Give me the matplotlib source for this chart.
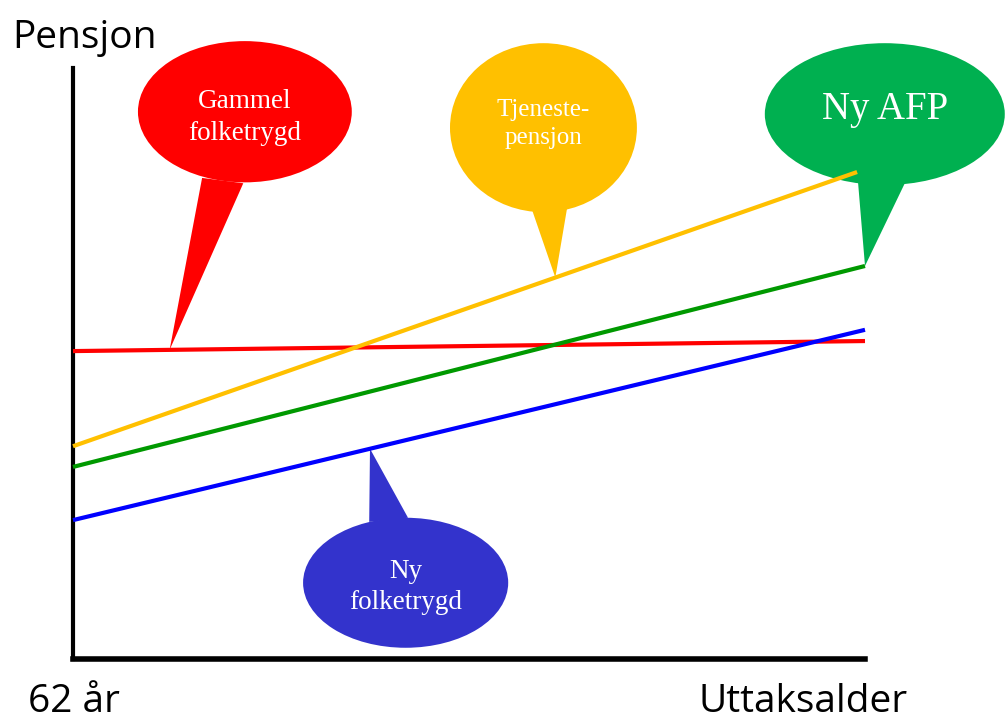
import matplotlib.pyplot as plt
from matplotlib.patches import Ellipse, Polygon

# schematic pension levels (arbitrary units) at 62 år (x=0) and late withdrawal
x_start = [0, 0, 0, 0]
x_end = [100, 99, 100, 100]
series = ["Gammel folketrygd", "Tjenestepensjon", "Ny AFP", "Ny folketrygd"]
y_start = [52.1, 36.0, 32.5, 23.5]
y_end = [53.8, 82.4, 66.5, 55.7]
line_colors = ["#FF0000", "#FFC000", "#009900", "#0000FF"]

# callout bubbles: label, colour, centre, size, tail base, tail tip x
bubble_labels = ["Gammel\nfolketrygd", "Tjeneste-\npensjon", "Ny AFP", "Ny\nfolketrygd"]
bubble_colors = ["#FF0000", "#FFC000", "#00B050", "#3333CC"]
bubble_centers = [(21.7, 92.6), (59.4, 89.9), (102.5, 92.2), (42.0, 12.9)]
bubble_sizes = [(27.0, 23.9), (23.6, 28.6), (30.3, 24.0), (25.9, 22.0)]
label_y = [91.6, 90.6, 93.0, 12.2]
tail_bases = [[(16.3, 81.4), (21.5, 80.5)],
              [(57.7, 77.0), (62.5, 77.2)],
              [(99.1, 81.0), (105.1, 80.7)],
              [(37.4, 23.2), (42.3, 23.9)]]
tail_tip_x = [12.2, 60.9, 100.0, 37.5]
tail_line = [0, 1, 2, 3]
font_sizes = [19.5, 18, 28, 19.5]

fig = plt.figure(figsize=(10.05, 7.19), dpi=100)
ax = fig.add_axes([73 / 1005, 60 / 719, 792 / 1005, 591 / 719])
ax.set_xlim(0, 100)
ax.set_ylim(0, 100)

for xs, xe, ys, ye, c in zip(x_start, x_end, y_start, y_end, line_colors):
    ax.plot([xs, xe], [ys, ye], color=c, lw=3.0, solid_capstyle="butt", clip_on=False, zorder=6)

for i in range(len(bubble_labels)):
    k = tail_line[i]
    frac = (tail_tip_x[i] - x_start[k]) / (x_end[k] - x_start[k])
    tip = (tail_tip_x[i], y_start[k] + frac * (y_end[k] - y_start[k]))
    tail = Polygon([tail_bases[i][0], tip, tail_bases[i][1]], closed=True,
                   facecolor=bubble_colors[i], edgecolor="none", clip_on=False, zorder=4)
    ax.add_patch(tail)
    cx, cy = bubble_centers[i]
    w, h = bubble_sizes[i]
    ax.add_patch(Ellipse((cx, cy), w, h, facecolor=bubble_colors[i], edgecolor="none",
                         clip_on=False, zorder=4))
    ax.text(cx, label_y[i], bubble_labels[i], color="white", ha="center", va="center",
            fontsize=font_sizes[i], family="Liberation Serif", linespacing=1.35, zorder=5)

for side in ["top", "right"]:
    ax.spines[side].set_visible(False)
ax.spines["left"].set_linewidth(3.0)
ax.spines["bottom"].set_linewidth(4.0)
ax.spines["left"].set_bounds(0, 100)
ax.set_xticks([])
ax.set_yticks([])
ax.patch.set_alpha(0)

fig.text(12 / 1005, 1 - 48 / 719, "Pensjon", fontsize=28, family="Open Sans", va="baseline", ha="left")
fig.text(28 / 1005, 1 - 712 / 719, "62 år", fontsize=28, family="Open Sans", va="baseline", ha="left")
fig.text(908 / 1005, 1 - 712 / 719, "Uttaksalder", fontsize=28, family="Open Sans", va="baseline", ha="right")

fig.savefig("out.png", dpi=100)
